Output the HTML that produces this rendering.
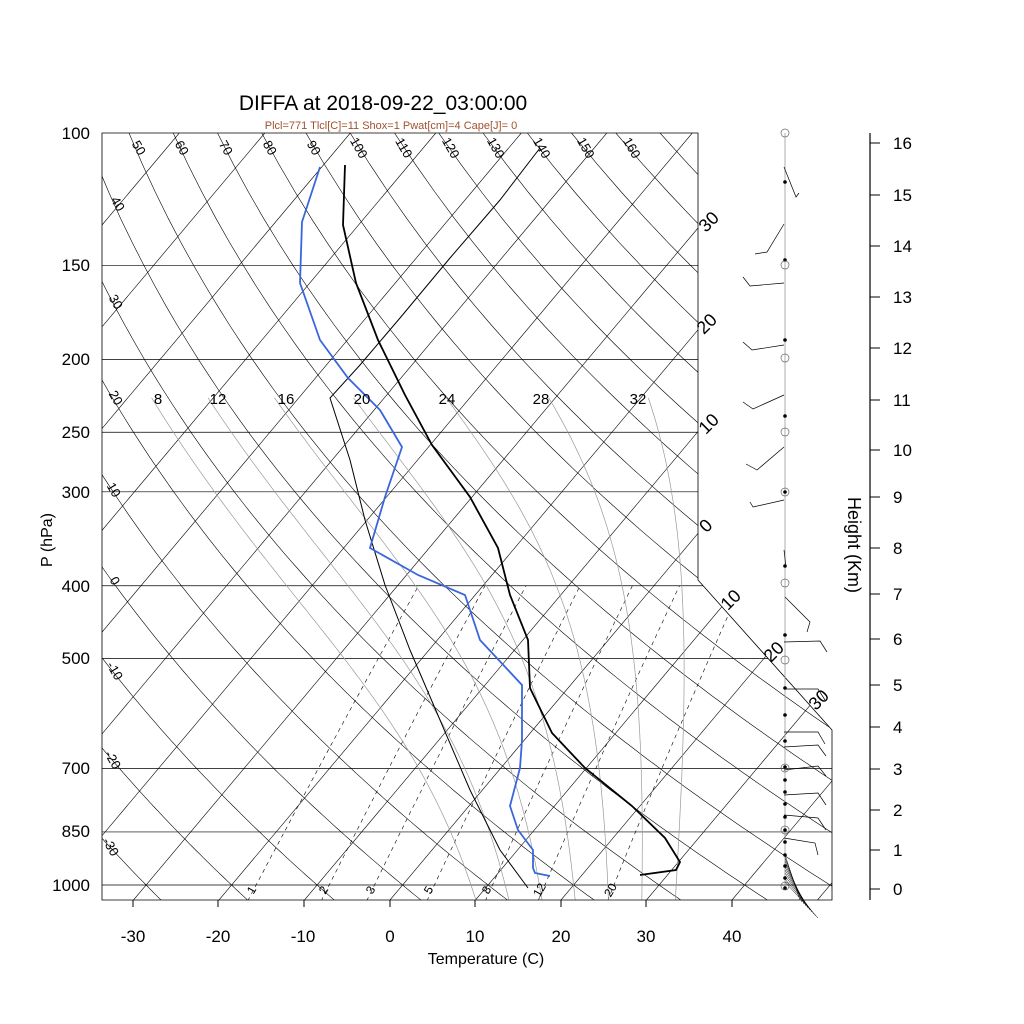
<!DOCTYPE html>
<html><head><meta charset="utf-8"><style>
body{margin:0;background:#fff;}
svg{display:block;font-family:"Liberation Sans",sans-serif;}
</style></head><body>
<svg id="s" width="1024" height="1024" viewBox="0 0 1024 1024" xmlns="http://www.w3.org/2000/svg">
<defs><clipPath id="cp"><polygon points="102,133 698,133 698,580 832,730 832,900 102,900"/></clipPath></defs>
<rect width="1024" height="1024" fill="#fff"/>
<g id="grid" clip-path="url(#cp)" fill="none"></g>
<polygon points="102,133 698,133 698,580 832,730 832,900 102,900" fill="none" stroke="#000" stroke-width="0.8"/>
<g id="prof" fill="none"></g>
<g font-size="17" text-anchor="end" fill="#000">
<text x="90" y="139">100</text><text x="90" y="271">150</text><text x="90" y="365">200</text><text x="90" y="438">250</text><text x="90" y="498">300</text><text x="90" y="592">400</text><text x="90" y="664">500</text><text x="90" y="774">700</text><text x="90" y="837">850</text><text x="90" y="891">1000</text>
</g>
<text x="0" y="0" font-size="16" text-anchor="middle" transform="translate(52,540) rotate(-90)">P (hPa)</text>
<g font-size="17" text-anchor="middle">
<text x="133" y="942">-30</text><text x="218" y="942">-20</text><text x="303" y="942">-10</text><text x="390" y="942">0</text><text x="475" y="942">10</text><text x="561" y="942">20</text><text x="646" y="942">30</text><text x="732" y="942">40</text>
</g>
<g stroke="#000" stroke-width="1"><line x1="133" y1="900" x2="133" y2="907"/><line x1="218" y1="900" x2="218" y2="907"/><line x1="304" y1="900" x2="304" y2="907"/><line x1="390" y1="900" x2="390" y2="907"/><line x1="475" y1="900" x2="475" y2="907"/><line x1="561" y1="900" x2="561" y2="907"/><line x1="646" y1="900" x2="646" y2="907"/><line x1="732" y1="900" x2="732" y2="907"/></g>
<text x="486" y="964" font-size="16" text-anchor="middle">Temperature (C)</text>
<text x="383" y="110" font-size="21" text-anchor="middle">DIFFA at 2018-09-22_03:00:00</text>
<text x="391" y="129" font-size="11" fill="#a0522d" text-anchor="middle">Plcl=771 Tlcl[C]=11 Shox=1 Pwat[cm]=4 Cape[J]= 0</text>
<g font-size="13" text-anchor="middle">
<text transform="translate(135,150) rotate(60)">50</text><text transform="translate(178,150) rotate(60)">60</text><text transform="translate(222,150) rotate(60)">70</text><text transform="translate(266,150) rotate(60)">80</text><text transform="translate(310,150) rotate(60)">90</text><text transform="translate(355,150) rotate(60)">100</text><text transform="translate(400,150) rotate(60)">110</text><text transform="translate(447,150) rotate(60)">120</text><text transform="translate(492,150) rotate(60)">130</text><text transform="translate(538,150) rotate(60)">140</text><text transform="translate(582,150) rotate(60)">150</text><text transform="translate(628,150) rotate(60)">160</text>
<text transform="translate(114,206) rotate(60)">40</text><text transform="translate(112,304) rotate(60)">30</text><text transform="translate(112,400) rotate(60)">20</text><text transform="translate(110,492) rotate(60)">10</text><text transform="translate(111,583) rotate(60)">0</text><text transform="translate(111,673) rotate(60)">-10</text><text transform="translate(109,762) rotate(60)">-20</text><text transform="translate(107,849) rotate(60)">-30</text>
</g>
<g font-size="15" text-anchor="middle">
<text x="158" y="404">8</text><text x="218" y="404">12</text><text x="286" y="404">16</text><text x="362" y="404">20</text><text x="447" y="404">24</text><text x="541" y="404">28</text><text x="638" y="404">32</text>
</g>
<g font-size="12" text-anchor="middle">
<text transform="translate(255,892) rotate(-60)">1</text><text transform="translate(327,892) rotate(-60)">2</text><text transform="translate(374,892) rotate(-60)">3</text><text transform="translate(432,892) rotate(-60)">5</text><text transform="translate(490,892) rotate(-60)">8</text><text transform="translate(543,892) rotate(-60)">12</text><text transform="translate(614,892) rotate(-60)">20</text>
</g>
<g font-size="18" text-anchor="middle">
<text transform="translate(713,226) rotate(-45)">30</text><text transform="translate(711,328) rotate(-45)">20</text><text transform="translate(713,428) rotate(-45)">10</text><text transform="translate(710,530) rotate(-45)">0</text><text transform="translate(735,604) rotate(-45)">10</text><text transform="translate(778,656) rotate(-45)">20</text><text transform="translate(823,704) rotate(-45)">30</text>
</g>
<g id="wind" fill="none" stroke="#000" stroke-width="0.7"></g>
<line x1="870" y1="133" x2="870" y2="900" stroke="#000" stroke-width="1.2"/>
<g id="ht" font-size="17"></g>
<text font-size="18" text-anchor="middle" transform="translate(848,545) rotate(90)">Height (Km)</text>
</svg>
<script>
var NS="http://www.w3.org/2000/svg";
function Y(p){return 133+326.6*Math.log(p/100);}
function X(T,y){return 390+8.55*T+(900-y)*0.84;}
function add(g,tag,at){var e=document.createElementNS(NS,tag);for(var k in at)e.setAttribute(k,at[k]);document.getElementById(g).appendChild(e);return e;}
function pl(g,pts,st,w,extra){var a={points:pts.map(function(q){return q[0].toFixed(1)+","+q[1].toFixed(1)}).join(" "),stroke:st,"stroke-width":w,fill:"none"};for(var k in extra)a[k]=extra[k];add(g,"polyline",a);}
for(var T=-150;T<=60;T+=10){pl("grid",[[X(T,900),900],[X(T,133),133]],"#000",0.6);}
for(var th=-30;th<=170;th+=10){var pts=[];for(var p=1060;p>=100;p-=10){var t=(th+273.15)*Math.pow(p/1000,0.286)-273.15;var y=Y(p);pts.push([X(t,y),y]);}pl("grid",pts,"#000",0.6);}
[150,200,250,300,400,500,700,850,1000].forEach(function(p){var y=Y(p);add("grid","line",{x1:102,y1:y,x2:840,y2:y,stroke:"#000","stroke-width":0.7});});
[1,2,3,5,8,12,20].forEach(function(w){var pts=[];for(var p=1050;p>=400;p-=10){var e=w*p/(622+w);var l=Math.log(e/6.112);var t=243.5*l/(17.67-l);var y=Y(p);pts.push([X(t,y),y]);}pl("grid",pts,"#000",0.6,{"stroke-dasharray":"4,4"});});
function rs(T,p){var es=6.112*Math.exp(17.67*(T-273.15)/(T-29.65));return 0.622*es/(p-es);}
function dTdp(T,p){var r=rs(T,p),L=2.5e6,Rd=287,cp=1004;return (Rd*T+L*r)/(p*(cp+L*L*r*0.622/(Rd*T*T)));}
[8,12,16,20,24,28,32].forEach(function(tw){var T=tw+273.15,pts=[];var Td=T;for(var p=1000;p<1050;p+=5){Td+=dTdp(Td,p)*5;}pts.push([X(Td-273.15,Y(1050)),Y(1050)]);for(var p=1000;p>=225;p-=5){var y=Y(p);pts.push([X(T-273.15,y),y]);T-=dTdp(T,p)*5;}pts.reverse();pl("grid",pts,"#999",0.7);});
pl("prof",[[528,888],[500,850],[470,790],[440,720],[410,650],[385,585],[365,520],[350,460],[330,398],[360,365],[400,318],[450,258],[500,200],[540,148]],"#000",1);
pl("prof",[[345,165],[343,225],[356,283],[378,340],[405,395],[432,445],[470,497],[498,548],[510,595],[528,640],[530,688],[552,733],[585,768],[632,806],[665,838],[680,862],[676,870],[640,875]],"#000",1.8);
pl("prof",[[320,167],[302,222],[300,283],[320,340],[348,378],[380,410],[402,447],[385,497],[370,548],[418,575],[465,595],[480,640],[522,685],[522,740],[520,768],[510,806],[518,830],[533,850],[533,868],[535,873],[550,876]],"#3a66dd",1.8);
add("wind","line",{x1:785,y1:133,x2:785,y2:890,stroke:"#999","stroke-width":0.8});
[[[784,167],[796,197],[799,193]],[[784,224],[767,252],[755,254]],[[784,283],[750,286],[743,277]],[[784,345],[752,350],[743,342]],[[784,395],[753,409],[743,402]],[[784,447],[757,470],[746,464]],[[784,500],[753,507],[750,502]],[[784,550],[786,567]],[[785,597],[810,622],[807,632]],[[784,642],[820,641],[827,652]],[[784,689],[818,689],[825,700]],[[784,732],[818,732],[825,744]],[[784,747],[818,745],[826,756]],[[784,770],[818,766],[826,776]],[[784,795],[818,793],[826,805]],[[784,815],[818,818],[826,830]],[[784,838],[815,843],[818,855]]].forEach(function(b){pl("wind",b,"#000",0.7);});
for(var i=0;i<10;i++){add("wind","line",{x1:785,y1:855+i*3,x2:800+i*2,y2:900+i*2,stroke:"#000","stroke-width":0.5});}
[182,260,340,416,492,566,635,688,715,741,767,780,792,804,817,830,842,855,866,878,888].forEach(function(y){add("wind","circle",{cx:785,cy:y,r:1.8,fill:"#000",stroke:"none"});});
[133,265,358,432,492,583,660,768,830,886].forEach(function(y){add("wind","circle",{cx:785,cy:y,r:4,stroke:"#666","stroke-width":0.7});});
var HY=[889,850,810,769,727,685,639,594,548,497,450,400,348,297,246,195,143];
for(var k=0;k<=16;k++){var y=HY[k];add("ht","line",{x1:870,y1:y,x2:880,y2:y,stroke:"#000","stroke-width":1});var t=add("ht","text",{x:893,y:y+6});t.textContent=k;}
</script>
</body></html>
